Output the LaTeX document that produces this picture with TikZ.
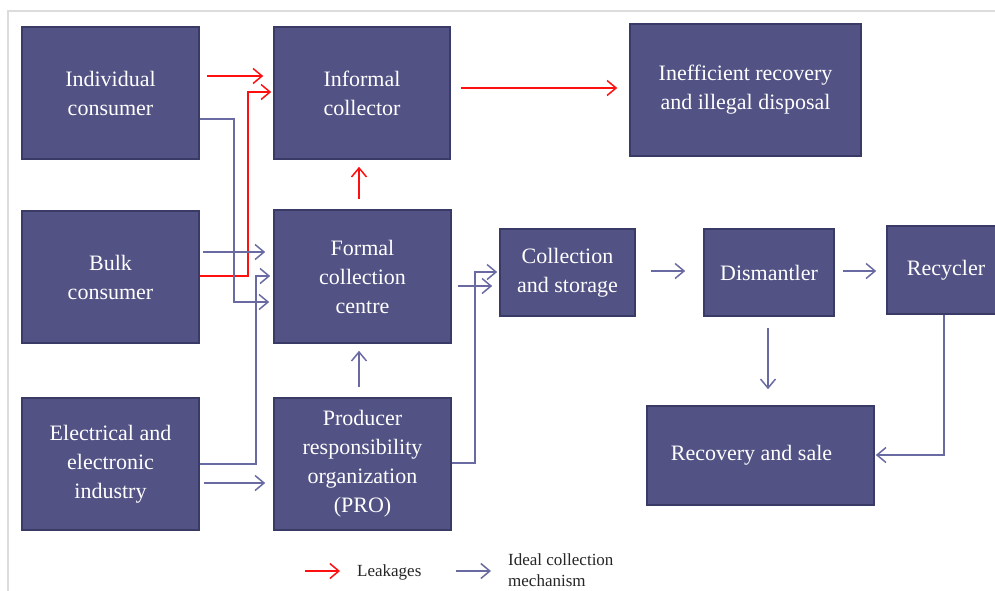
\documentclass[tikz,border=0pt]{standalone}
\usepackage{fontspec}
\setmainfont{Liberation Serif}
\usetikzlibrary{arrows.meta}
\definecolor{boxfill}{HTML}{525285}
\definecolor{boxline}{HTML}{3A3A66}
\definecolor{idealc}{HTML}{6A6AA2}
\definecolor{leakc}{HTML}{FF1010}
\definecolor{framec}{HTML}{DCDCDC}
\tikzset{
  box/.style={draw=boxline, fill=boxfill, line width=1.6pt, text=white, align=center,
    inner sep=0pt, font=\fontsize{22}{29}\selectfont},
  leak/.style={draw=leakc, line width=1.5pt, -{Straight Barb[length=9pt,width=15pt,line width=1.5pt]}},
  ideal/.style={draw=idealc, line width=1.5pt, -{Straight Barb[length=9pt,width=15pt,line width=1.5pt]}},
  legtext/.style={font=\fontsize{17}{21}\selectfont, text=black!85, inner sep=0pt, align=left}
}
\begin{document}
\begin{tikzpicture}[x=1pt,y=-1pt]
\useasboundingbox (0,0) rectangle (995,590);
\clip (0,0) rectangle (995,590);
\fill[white] (0,0) rectangle (995,590);
\draw[framec, line width=2pt] (8,592) -- (8,11) -- (997,11);

\node[box, minimum width=177pt, minimum height=132pt] (ind) at (110.5,93) {Individual\\consumer};
\node[box, minimum width=176pt, minimum height=132pt] (inf) at (362,93) {Informal\\collector};
\node[box, minimum width=231pt, minimum height=132pt] (ineff) at (745.5,90) {Inefficient recovery\\and illegal disposal};
\node[box, minimum width=177pt, minimum height=132pt] (bulk) at (110.5,277) {Bulk\\consumer};
\node[box, minimum width=177pt, minimum height=133pt] (formal) at (362.5,276.5) {Formal\\collection\\centre};
\node[box, minimum width=135pt, minimum height=87pt] (coll) at (567.5,272.5) {Collection\\and storage};
\node[box, minimum width=130pt, minimum height=87pt] (dis) at (769,272.5) {Dismantler};
\node[box, minimum width=118pt, minimum height=88pt] (rec) at (946,270) {Recycler};
\node[box, minimum width=177pt, minimum height=132pt] (elec) at (110.5,464) {Electrical and\\electronic\\industry};
\node[box, minimum width=177pt, minimum height=132pt] (pro) at (362.5,464) {Producer\\responsibility\\organization\\(PRO)};
\node[box, minimum width=227pt, minimum height=99pt] (rs) at (760.5,455.5) {Recovery and sale\hspace*{18pt}};

% leakages
\draw[leak, shorten <=7pt, shorten >=10pt] (ind.east |- 0,76) -- (inf.west |- 0,76);
\draw[leak, shorten >=2pt] (bulk.east |- 0,276) -| (248,92) -- (inf.west |- 0,92);
\draw[leak, shorten <=10pt, shorten >=7pt] (formal.north -| 359,0) -- (inf.south -| 359,0);
\draw[leak, shorten <=10pt, shorten >=12pt] (inf.east |- 0,88) -- (ineff.west |- 0,88);

% ideal collection
\draw[ideal, shorten >=4pt] (ind.east |- 0,119) -| (234,302) -- (formal.west |- 0,302);
\draw[ideal, shorten <=3pt, shorten >=8pt] (bulk.east |- 0,252) -- (formal.west |- 0,252);
\draw[ideal, shorten >=3pt] (elec.east |- 0,464) -| (256,276) -- (formal.west |- 0,276);
\draw[ideal, shorten <=4pt, shorten >=8pt] (elec.east |- 0,483) -- (pro.west |- 0,483);
\draw[ideal, shorten <=10pt, shorten >=7pt] (pro.north -| 359,0) -- (formal.south -| 359,0);
\draw[ideal, shorten <=6pt, shorten >=7pt] (formal.east |- 0,286) -- (coll.west |- 0,286);
\draw[ideal, shorten >=2pt] (pro.east |- 0,463) -| (475,272) -- (coll.west |- 0,272);
\draw[ideal, shorten <=15pt, shorten >=18pt] (coll.east |- 0,271) -- (dis.west |- 0,271);
\draw[ideal, shorten <=8pt, shorten >=10pt] (dis.east |- 0,271) -- (rec.west |- 0,271);
\draw[ideal, shorten <=11pt, shorten >=16pt] (dis.south -| 768,0) -- (rs.north -| 768,0);
\draw[ideal, shorten >=1pt] (rec.south -| 944,0) |- (rs.east |- 0,455);

% legend
\coordinate (la) at (305,571);
\coordinate (lb) at (340,571);
\coordinate (ia) at (456,571);
\coordinate (ib) at (491,571);
\draw[leak] (la) -- (lb);
\draw[ideal] (ia) -- (ib);
\node[legtext, anchor=west] (leaktxt) at (357,572) {Leakages};
\node[legtext, anchor=north west] (idealtxt) at (508,553) {Ideal collection\\mechanism};
\end{tikzpicture}
\end{document}
